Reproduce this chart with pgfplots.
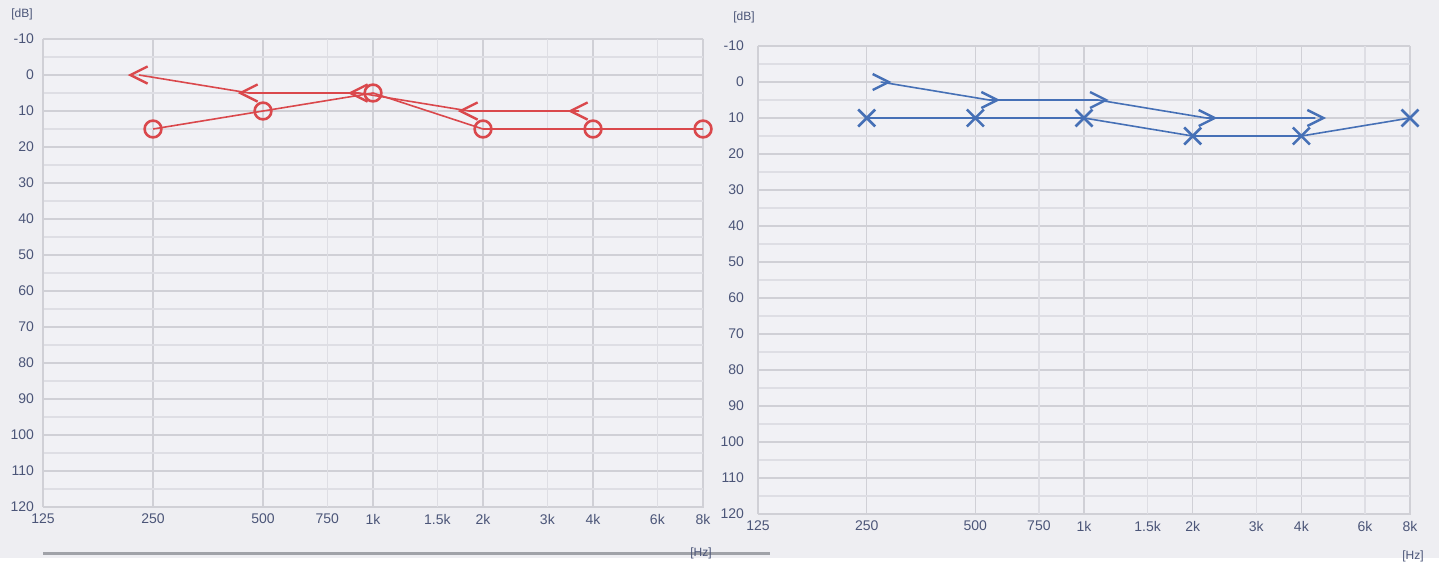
\documentclass[border=0pt]{standalone}
\usepackage{fontspec}
\setmainfont{Liberation Sans}
\usepackage{pgfplots}
\pgfplotsset{compat=1.18}
\definecolor{bg}{RGB}{238,238,242}
\definecolor{axbg}{RGB}{241,241,245}
\definecolor{txt}{RGB}{75,85,120}
\definecolor{gridc}{RGB}{208,208,214}
\definecolor{gridm}{RGB}{222,222,228}
\definecolor{rd}{RGB}{218,72,76}
\definecolor{bl}{RGB}{70,112,182}
\definecolor{barc}{RGB}{160,162,168}

\pgfdeclareplotmark{bcl}{%
  \pgfpathmoveto{\pgfqpoint{\pgfplotmarksize}{\pgfplotmarksize}}%
  \pgfpathlineto{\pgfqpoint{-\pgfplotmarksize}{0pt}}%
  \pgfpathlineto{\pgfqpoint{\pgfplotmarksize}{-\pgfplotmarksize}}%
  \pgfusepathqstroke}
\pgfdeclareplotmark{bcr}{%
  \pgfpathmoveto{\pgfqpoint{-\pgfplotmarksize}{\pgfplotmarksize}}%
  \pgfpathlineto{\pgfqpoint{\pgfplotmarksize}{0pt}}%
  \pgfpathlineto{\pgfqpoint{-\pgfplotmarksize}{-\pgfplotmarksize}}%
  \pgfusepathqstroke}

\begin{document}
\begin{tikzpicture}
\fill[bg] (0pt,0pt) rectangle (719.5pt,279pt);
\draw[barc, line width=1.5pt] (21.5pt,2.5pt) -- (385pt,2.5pt);

% Left panel (right ear)
\begin{axis}[
  scale only axis, anchor=south west,
  at={(21.5pt,25.5pt)}, width=330pt, height=234pt,
  xmode=log, log basis x=2,
  xmin=125, xmax=8000,
  ymin=-10, ymax=120, y dir=reverse,
  xtick={125,250,500,1000,2000,4000,8000},
  xticklabels={125,250,500,1k,2k,4k,8k},
  extra x ticks={750,1500,3000,6000},
  extra x tick labels={750,1.5k,3k,6k},
  extra x tick style={grid=major, major grid style={draw=gridm, line width=0.6pt}},
  ytick={-10,0,...,120},
  minor ytick={-5,5,...,115},
  grid=both,
  major grid style={draw=gridc, line width=0.7pt},
  minor grid style={draw=gridm, line width=0.6pt},
  axis line style={draw=gridc},
  tick style={draw=none},
  tick label style={font=\fontsize{7}{8}\selectfont, text=txt},
  /pgf/number format/assume math mode=true,
  axis background/.style={fill=axbg},
  clip=false,
  yticklabel style={xshift=-1pt},
]
\addplot[rd, line width=0.8pt, mark=o, mark size=4.2pt, mark options={line width=1.3pt}]
  coordinates {(250,15) (500,10) (1000,5) (2000,15) (4000,15) (8000,15)};
\addplot[rd, line width=0.8pt, mark=bcl, mark size=4.3pt, mark options={line width=1.2pt}, xshift=-7pt]
  coordinates {(250,0) (500,5) (1000,5) (2000,10) (4000,10)};
\node[anchor=south, font=\fontsize{6}{7}\selectfont, text=txt] at ([xshift=-10.5pt,yshift=6pt]rel axis cs:0,1) {[dB]};
\node[anchor=north, font=\fontsize{6}{7}\selectfont, text=txt] at ([xshift=-1pt,yshift=-17pt]rel axis cs:1,0) {[Hz]};
\end{axis}

% Right panel (left ear)
\begin{axis}[
  scale only axis, anchor=south west,
  at={(379pt,22pt)}, width=326pt, height=234pt,
  xmode=log, log basis x=2,
  xmin=125, xmax=8000,
  ymin=-10, ymax=120, y dir=reverse,
  xtick={125,250,500,1000,2000,4000,8000},
  xticklabels={125,250,500,1k,2k,4k,8k},
  extra x ticks={750,1500,3000,6000},
  extra x tick labels={750,1.5k,3k,6k},
  extra x tick style={grid=major, major grid style={draw=gridm, line width=0.6pt}},
  ytick={-10,0,...,120},
  minor ytick={-5,5,...,115},
  grid=both,
  major grid style={draw=gridc, line width=0.7pt},
  minor grid style={draw=gridm, line width=0.6pt},
  axis line style={draw=gridc},
  tick style={draw=none},
  tick label style={font=\fontsize{7}{8}\selectfont, text=txt},
  /pgf/number format/assume math mode=true,
  axis background/.style={fill=axbg},
  clip=false,
  yticklabel style={xshift=-3.5pt},
]
\addplot[bl, line width=0.8pt, mark=x, mark size=6pt, mark options={line width=1.3pt}]
  coordinates {(250,10) (500,10) (1000,10) (2000,15) (4000,15) (8000,10)};
\addplot[bl, line width=0.8pt, mark=bcr, mark size=4pt, mark options={line width=1.2pt}, xshift=7pt]
  coordinates {(250,0) (500,5) (1000,5) (2000,10) (4000,10)};
\node[anchor=south, font=\fontsize{6}{7}\selectfont, text=txt] at ([xshift=-7pt,yshift=8pt]rel axis cs:0,1) {[dB]};
\node[anchor=north, font=\fontsize{6}{7}\selectfont, text=txt] at ([xshift=1.5pt,yshift=-15pt]rel axis cs:1,0) {[Hz]};
\end{axis}
\end{tikzpicture}
\end{document}
